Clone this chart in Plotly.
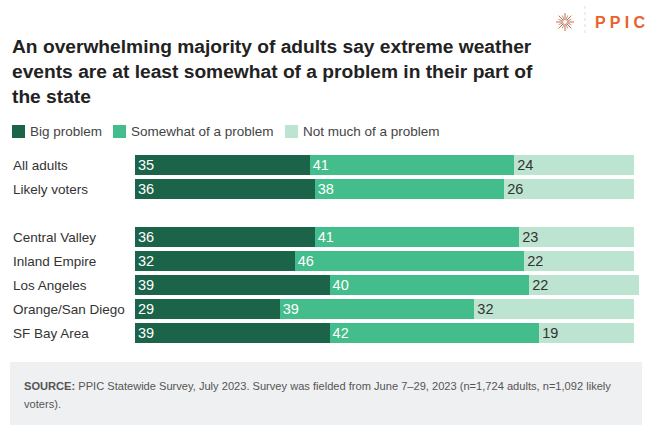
import math
import plotly.graph_objects as go

categories = ["All adults", "Likely voters", " ", "Central Valley", "Inland Empire",
              "Los Angeles", "Orange/San Diego", "SF Bay Area"]
big = [35, 36, None, 36, 32, 39, 29, 39]
somewhat = [41, 38, None, 41, 46, 40, 39, 42]
notmuch = [24, 26, None, 23, 22, 22, 32, 19]
series_names = ["Big problem", "Somewhat of a problem", "Not much of a problem"]
colors = ["#1b6349", "#43bd8b", "#bde4d1"]
text_colors = ["white", "white", "#333333"]

W, H = 650, 435
L, R, T, B = 135, 11, 153, 90
PW, PH = W - L - R, H - T - B

def px(x):
    return (x - L) / PW

def py(y):
    return (H - B - y) / PH

fig = go.Figure()
for name, vals, col, tc in zip(series_names, [big, somewhat, notmuch], colors, text_colors):
    fig.add_trace(go.Bar(
        y=categories, x=vals, name=name, orientation="h",
        marker=dict(color=col, line=dict(width=0)),
        text=[("" if v is None else str(v)) for v in vals],
        textposition="inside", insidetextanchor="start", textangle=0,
        constraintext="none",
        textfont=dict(color=tc, size=14.5, family="Liberation Sans"),
        showlegend=False, hoverinfo="skip",
    ))

annotations = []
shapes = []
for c in categories:
    if c.strip():
        annotations.append(dict(x=px(11), y=c, xref="paper", yref="y", text=c,
                                showarrow=False, xanchor="left", yanchor="middle",
                                font=dict(size=13.5, color="#333333", family="Liberation Sans")))

annotations.append(dict(x=px(10), y=py(34), xref="paper", yref="paper",
                        text="<b>An overwhelming majority of adults say extreme weather<br>events are at least somewhat of a problem in their part of<br>the state</b>",
                        showarrow=False, xanchor="left", yanchor="top", align="left",
                        font=dict(size=19.2, color="#222222", family="Liberation Sans")))

leg_x = [12, 113, 285]
for lx, name, col in zip(leg_x, series_names, colors):
    shapes.append(dict(type="rect", xref="paper", yref="paper",
                       x0=px(lx), x1=px(lx + 13), y0=py(125), y1=py(138),
                       fillcolor=col, line=dict(width=0)))
    annotations.append(dict(x=px(lx + 16), y=py(131), xref="paper", yref="paper", text=name,
                            showarrow=False, xanchor="left", yanchor="middle",
                            font=dict(size=13.5, color="#444444", family="Liberation Sans")))

shapes.append(dict(type="rect", xref="paper", yref="paper", x0=px(10), x1=px(642),
                   y0=py(425), y1=py(362), fillcolor="#eff0f1", line=dict(width=0), layer="below"))
annotations.append(dict(x=px(22), y=py(386), xref="paper", yref="paper",
                        text="<b>SOURCE:</b> PPIC Statewide Survey, July 2023. Survey was fielded from June 7–29, 2023 (n=1,724 adults, n=1,092 likely",
                        showarrow=False, xanchor="left", yanchor="middle",
                        font=dict(size=11.1, color="#555555", family="Liberation Sans")))
annotations.append(dict(x=px(22), y=py(404), xref="paper", yref="paper", text="voters).",
                        showarrow=False, xanchor="left", yanchor="middle",
                        font=dict(size=11.1, color="#555555", family="Liberation Sans")))

cx, cy = 565, 22
for i in range(16):
    a = i * math.pi / 8
    r = 9 if i % 2 == 0 else 7
    shapes.append(dict(type="line", xref="paper", yref="paper",
                       x0=px(cx + 2 * math.cos(a)), y0=py(cy + 2 * math.sin(a)),
                       x1=px(cx + r * math.cos(a)), y1=py(cy + r * math.sin(a)),
                       line=dict(color="#e8632b" if i % 2 == 0 else "#9aa0a6", width=1)))
shapes.append(dict(type="line", xref="paper", yref="paper", x0=px(585), x1=px(585),
                   y0=py(6), y1=py(36), line=dict(color="#dddddd", width=1, dash="dot")))
annotations.append(dict(x=px(593), y=py(22), xref="paper", yref="paper", text="<b>P P I C</b>",
                        showarrow=False, xanchor="left", yanchor="middle",
                        font=dict(size=16, color="#e8632b", family="Liberation Sans")))

fig.update_layout(
    width=W, height=H, barmode="stack", bargap=4 / 24,
    margin=dict(l=L, r=R, t=T, b=B, pad=0),
    paper_bgcolor="white", plot_bgcolor="white",
    xaxis=dict(range=[0, 101], visible=False, fixedrange=True),
    yaxis=dict(categoryorder="array", categoryarray=categories, autorange="reversed",
               showticklabels=False, showgrid=False, zeroline=False, showline=False,
               fixedrange=True),
    annotations=annotations, shapes=shapes,
)

fig.write_html("out.html", config={"displayModeBar": False},
               post_script="document.body.style.margin='0';")
